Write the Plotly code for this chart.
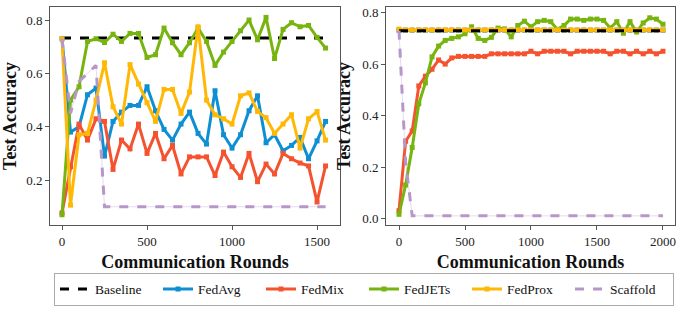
import plotly.graph_objects as go
from plotly.subplots import make_subplots

# ---------------- data ----------------
rounds_left = list(range(0, 1551, 50))
rounds_right = list(range(0, 2001, 50))

baseline_left = [0.733] * len(rounds_left)
fedavg_left = [0.73, 0.38, 0.40, 0.52, 0.545, 0.29, 0.42, 0.455, 0.48, 0.48, 0.55, 0.46,
               0.39, 0.35, 0.41, 0.455, 0.375, 0.335, 0.535, 0.37, 0.32, 0.37, 0.46, 0.516,
               0.34, 0.37, 0.31, 0.33, 0.36, 0.28, 0.347, 0.42]
fedmix_left = [0.077, 0.25, 0.41, 0.35, 0.43, 0.42, 0.24, 0.35, 0.317, 0.41, 0.30, 0.375,
               0.28, 0.33, 0.223, 0.287, 0.287, 0.287, 0.217, 0.305, 0.25, 0.21, 0.30, 0.194,
               0.26, 0.223, 0.30, 0.28, 0.264, 0.253, 0.118, 0.253]
fedjets_left = [0.07, 0.50, 0.55, 0.72, 0.73, 0.716, 0.747, 0.72, 0.75, 0.75, 0.66, 0.67,
                0.77, 0.715, 0.67, 0.715, 0.77, 0.72, 0.63, 0.68, 0.72, 0.76, 0.80, 0.726,
                0.81, 0.656, 0.765, 0.79, 0.775, 0.78, 0.735, 0.695]
fedprox_left = [0.73, 0.106, 0.37, 0.375, 0.50, 0.64, 0.475, 0.41, 0.633, 0.56, 0.49, 0.42,
                0.54, 0.54, 0.45, 0.53, 0.775, 0.50, 0.445, 0.43, 0.41, 0.516, 0.527, 0.457,
                0.434, 0.375, 0.41, 0.445, 0.32, 0.43, 0.457, 0.35]
scaffold_left = [0.73, 0.45, 0.57, 0.60, 0.63] + [0.10] * 27

baseline_right = [0.73] * len(rounds_right)
fedavg_right = [0.732] * len(rounds_right)
fedmix_right = [0.03, 0.30, 0.34, 0.515, 0.553, 0.58, 0.616, 0.60, 0.624, 0.63, 0.63, 0.63,
                0.63, 0.63, 0.64, 0.64, 0.64, 0.64, 0.64, 0.64, 0.65,
                0.64, 0.65, 0.65, 0.65, 0.65, 0.64, 0.65, 0.65, 0.65, 0.65,
                0.65, 0.64, 0.65, 0.65, 0.64, 0.65, 0.64, 0.65, 0.64, 0.65]
fedjets_right = [0.016, 0.13, 0.276, 0.446, 0.527, 0.628, 0.67, 0.692, 0.70, 0.706, 0.718,
                 0.745, 0.70, 0.692, 0.704, 0.74, 0.737, 0.706, 0.75, 0.767, 0.745,
                 0.765, 0.77, 0.765, 0.735, 0.75, 0.775, 0.775, 0.77, 0.775, 0.775,
                 0.77, 0.74, 0.765, 0.72, 0.765, 0.725, 0.76, 0.78, 0.775, 0.755]
fedprox_right = [0.736] + [0.733] * (len(rounds_right) - 1)
scaffold_right = [0.73, 0.22] + [0.01] * 39

colors = {"Baseline": "black", "FedAvg": "#0f8fd3", "FedMix": "#f5522f",
          "FedJETs": "#77b40f", "FedProx": "#ffb805", "Scaffold": "#b797c9"}

FONT = "Liberation Serif"

fig = make_subplots(rows=1, cols=2)


def add_series(col, x, data, show):
    base, avg, mix, jets, prox, scaf = data
    order = ["FedAvg", "FedMix", "FedJETs", "FedProx"]
    vals = {"FedAvg": avg, "FedMix": mix, "FedJETs": jets, "FedProx": prox}
    traces = []
    base_tr = go.Scatter(x=x, y=base, mode="lines", name="Baseline",
                         line=dict(color=colors["Baseline"], width=3, dash="dash"),
                         showlegend=show, legendrank=1)
    if col == 1:
        traces.append(base_tr)
    for i, n in enumerate(order):
        traces.append(go.Scatter(x=x, y=vals[n], mode="lines+markers", name=n,
                                 line=dict(color=colors[n], width=3),
                                 marker=dict(symbol="square", size=5, color=colors[n]),
                                 showlegend=show, legendrank=2 + i))
    if col == 2:
        traces.append(base_tr)
    traces.append(go.Scatter(x=x, y=scaf, mode="lines", showlegend=False,
                             line=dict(color="rgba(183,151,201,0.35)", width=1),
                             hoverinfo="skip"))
    traces.append(go.Scatter(x=x, y=scaf, mode="lines", name="Scaffold",
                             line=dict(color=colors["Scaffold"], width=3, dash="dash"),
                             showlegend=show, legendrank=6))
    for t in traces:
        fig.add_trace(t, row=1, col=col)


add_series(1, rounds_left, [baseline_left, fedavg_left, fedmix_left, fedjets_left,
                            fedprox_left, scaffold_left], True)
add_series(2, rounds_right, [baseline_right, fedavg_right, fedmix_right, fedjets_right,
                             fedprox_right, scaffold_right], False)

axis_common = dict(showgrid=False, zeroline=False, showline=True, mirror=True,
                   linecolor="#555", linewidth=1, ticks="outside", ticklen=4,
                   tickcolor="#555", tickfont=dict(family=FONT, size=13, color="#222"))
title_font = dict(family=FONT, size=18, color="#111")

fig.update_xaxes(**axis_common, domain=[0.0, 0.464], range=[-70.6, 1635],
                 tickvals=[0, 500, 1000, 1500],
                 title=dict(text="<b>Communication Rounds</b>", font=title_font, standoff=7),
                 row=1, col=1)
fig.update_xaxes(**axis_common, domain=[0.5376, 1.0], range=[-98.5, 2091],
                 tickvals=[0, 500, 1000, 1500, 2000],
                 title=dict(text="<b>Communication Rounds</b>", font=title_font, standoff=7),
                 row=1, col=2)
fig.update_yaxes(**axis_common, range=[0.0316, 0.849], tickvals=[0.2, 0.4, 0.6, 0.8],
                 ticktext=["0.2", "0.4", "0.6", "0.8"],
                 title=dict(text="<b>Test Accuracy</b>", font=title_font, standoff=6),
                 row=1, col=1)
fig.update_yaxes(**axis_common, range=[-0.0255, 0.822], tickvals=[0.0, 0.2, 0.4, 0.6, 0.8],
                 ticktext=["0.0", "0.2", "0.4", "0.6", "0.8"],
                 title=dict(text="<b>Test Accuracy</b>", font=title_font, standoff=6),
                 row=1, col=2)

fig.update_layout(
    width=685, height=311,
    margin=dict(l=50, r=10, t=5, b=73),
    plot_bgcolor="white", paper_bgcolor="white",
    font=dict(family=FONT, color="#111"),
    legend=dict(orientation="h", x=(364 - 50) / 625, xanchor="center",
                y=(238 - 289) / 233, yanchor="top",
                bgcolor="white", bordercolor="#aaaaaa", borderwidth=1,
                font=dict(family=FONT, size=13.5, color="#111"),
                entrywidth=58, entrywidthmode="pixels", itemwidth=30,
                tracegroupgap=0),
)

fig.write_html("out.html", config={"displayModeBar": False},
               post_script="document.body.style.margin='0';")
